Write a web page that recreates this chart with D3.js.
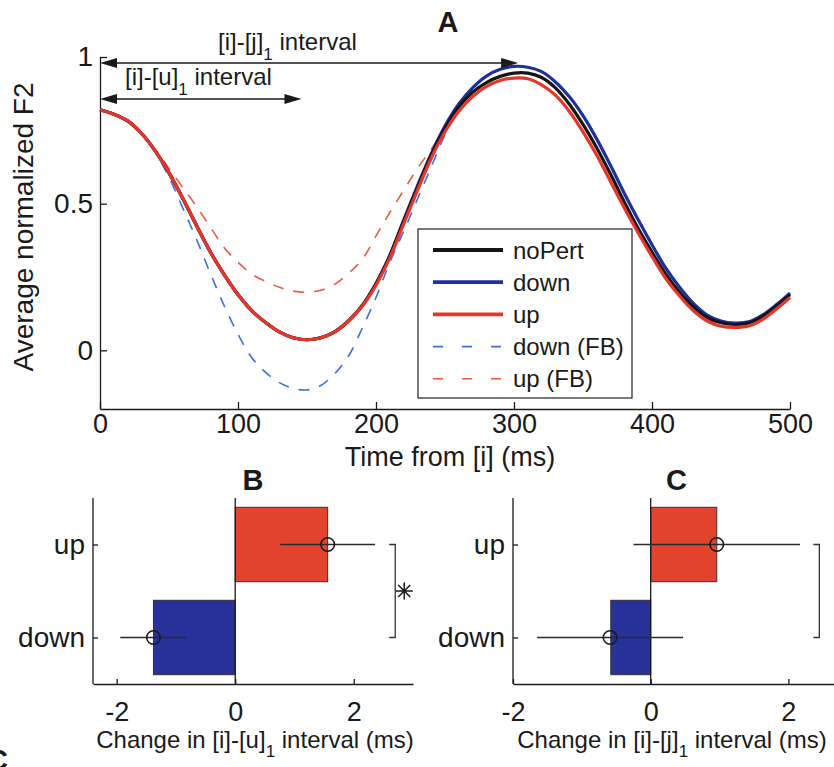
<!DOCTYPE html>
<html>
<head>
<meta charset="utf-8">
<script src="https://cdn.jsdelivr.net/npm/d3@7"></script>
<style>
  body { margin: 0; background: #fff; }
  text { font-family: "Liberation Sans", Arial, Helvetica, sans-serif; fill: #1a1a1a; }
</style>
</head>
<body>
<svg id="fig" width="834" height="767"></svg>
<script>
// ---- data ----
const timeMs = [0,10,20,30,40,50,60,70,80,90,100,110,120,130,140,150,160,170,180,190,200,
  210,220,230,240,250,260,270,280,290,300,310,320,330,340,350,360,370,380,390,400,
  410,420,430,440,450,460,470,480,490,500];

const noPert = [.82,.805,.782,.74,.68,.605,.518,.425,.335,.258,.19,.135,.095,.063,.043,.036,.043,.063,.10,.152,.227,
  .322,.44,.555,.665,.757,.83,.88,.913,.934,.945,.945,.93,.895,.84,.77,.69,.60,.505,.415,.335,
  .26,.198,.148,.112,.094,.088,.093,.115,.15,.19];
const down = [.82,.805,.782,.74,.68,.605,.518,.425,.335,.258,.19,.135,.095,.063,.043,.036,.043,.063,.10,.153,.228,
  .324,.443,.56,.67,.765,.84,.895,.935,.958,.968,.965,.95,.915,.865,.80,.72,.63,.535,.445,.36,
  .28,.215,.16,.12,.10,.093,.097,.12,.155,.195];
const up = [.82,.805,.782,.74,.68,.605,.518,.425,.335,.258,.19,.135,.095,.063,.043,.036,.043,.063,.10,.15,.222,
  .315,.43,.545,.655,.745,.815,.865,.90,.92,.928,.926,.905,.87,.815,.745,.665,.575,.485,.40,.32,
  .245,.185,.135,.10,.082,.078,.083,.105,.14,.18];
const downFB = [.82,.805,.782,.74,.675,.59,.485,.378,.262,.152,.055,-.025,-.075,-.11,-.13,-.135,-.12,-.08,-.02,.075,.18,
  .30,.405,.515,.625,.735,.83,.895,.935,.958,.968,.965,.95,.915,.865,.80,.72,.63,.535,.445,.36,
  .28,.215,.16,.12,.10,.093,.097,.12,.155,.195];
const upFB = [.82,.805,.782,.74,.685,.62,.555,.49,.42,.35,.30,.26,.235,.215,.202,.198,.205,.225,.262,.31,.39,
  .47,.545,.62,.685,.755,.815,.865,.90,.92,.928,.926,.905,.87,.815,.745,.665,.575,.485,.40,.32,
  .245,.185,.135,.10,.082,.078,.083,.105,.14,.18];

const timeTicks = [0, 100, 200, 300, 400, 500];
const f2Ticks = [0, 0.5, 1];

const intervalNames = ['[i]-[j]', '[i]-[u]'];
const intervalEndMs = [303, 146];

const barCats = ['down', 'up'];
const iuChange = [-1.38, 1.56];
const iuErr = [0.56, 0.80];
const ijChange = [-0.58, 0.96];
const ijMean = [-0.59, 0.96];
const ijErr = [1.06, 1.21];
const changeTicks = [-2, 0, 2];

const series = [
  { name: 'down (FB)', values: downFB, color: '#3b6fe0', width: 1.6, dash: '11,10' },
  { name: 'up (FB)', values: upFB, color: '#ec5a3e', width: 1.6, dash: '11,10' },
  { name: 'down', values: down, color: '#1f2f9c', width: 3.2, dash: null },
  { name: 'noPert', values: noPert, color: '#151515', width: 3.2, dash: null },
  { name: 'up', values: up, color: '#e8352a', width: 3.2, dash: null },
];
const legendOrder = ['noPert', 'down', 'up', 'down (FB)', 'up (FB)'];

const svg = d3.select('#fig');
const ink = '#1a1a1a';
const plain = d => String(d);

// ---- panel A ----
const x = d3.scaleLinear().domain([0, 500]).range([100, 790]);
const y = d3.scaleLinear().domain([-0.2, 1]).range([409, 57]);

const gA = svg.append('g');

gA.append('g')
  .attr('transform', `translate(0,${y(-0.2)})`)
  .call(d3.axisBottom(x).tickValues(timeTicks).tickFormat(plain).tickSizeInner(-7).tickSizeOuter(0).tickPadding(5))
  .call(g => g.selectAll('text').attr('font-size', 27));
gA.append('g')
  .attr('transform', `translate(${x(0)},0)`)
  .call(d3.axisLeft(y).tickValues(f2Ticks).tickFormat(plain).tickSizeInner(-7).tickSizeOuter(0).tickPadding(7))
  .call(g => g.selectAll('text').attr('font-size', 28));
gA.selectAll('.domain, .tick line').attr('stroke', ink).attr('stroke-width', 1.3);

const line = d3.line()
  .x((d, i) => x(timeMs[i]))
  .y(d => y(d))
  .curve(d3.curveCatmullRom.alpha(0.5));

gA.selectAll('path.curve')
  .data(series)
  .join('path')
  .attr('class', 'curve')
  .attr('d', d => line(d.values))
  .attr('fill', 'none')
  .attr('stroke', d => d.color)
  .attr('stroke-width', d => d.width)
  .attr('stroke-dasharray', d => d.dash);

// interval arrows
const arrowY = [63, 99];
const labelPos = [[218, 50], [125, 85]];
intervalNames.forEach((name, i) => {
  const x0 = x(0), x1 = x(intervalEndMs[i]), ay = arrowY[i];
  gA.append('line')
    .attr('x1', x0 + 10).attr('x2', x1 - 10).attr('y1', ay).attr('y2', ay)
    .attr('stroke', ink).attr('stroke-width', 1.3);
  gA.append('path')
    .attr('d', `M${x0},${ay} l17,-5 l0,10 Z M${x1},${ay} l-17,-5 l0,10 Z`)
    .attr('fill', ink);
  const t = gA.append('text')
    .attr('x', labelPos[i][0]).attr('y', labelPos[i][1])
    .attr('font-size', 24);
  t.append('tspan').text(name);
  t.append('tspan').text('1').attr('font-size', 17).attr('dy', 10);
  t.append('tspan').text(' interval').attr('dy', -10);
});

gA.append('text')
  .attr('x', 448).attr('y', 32)
  .attr('text-anchor', 'middle')
  .attr('font-size', 29).attr('font-weight', 'bold')
  .text('A');

gA.append('text')
  .attr('x', 450).attr('y', 466)
  .attr('text-anchor', 'middle')
  .attr('font-size', 27)
  .text('Time from [i] (ms)');

gA.append('text')
  .attr('transform', 'translate(33,227) rotate(-90)')
  .attr('text-anchor', 'middle')
  .attr('font-size', 28)
  .text('Average normalized F2');

// legend
const lg = gA.append('g');
lg.append('rect')
  .attr('x', 418).attr('y', 229).attr('width', 214).attr('height', 169)
  .attr('fill', '#fff').attr('stroke', '#222').attr('stroke-width', 1.2);
legendOrder.forEach((name, i) => {
  const s = series.find(d => d.name === name);
  const ly = 250 + i * 32.2;
  lg.append('line')
    .attr('x1', 433).attr('x2', 503).attr('y1', ly).attr('y2', ly)
    .attr('stroke', s.color)
    .attr('stroke-width', s.dash ? 1.6 : 3.8)
    .attr('stroke-dasharray', s.dash ? '10,19' : null);
  lg.append('text')
    .attr('x', 513).attr('y', ly + 8.5)
    .attr('font-size', 24)
    .text(name);
});

// ---- panels B and C ----
const catY = d3.scalePoint().domain(barCats).range([637.5, 544.5]);
const bandPx = 93 * 0.8;

function barPanel(opts) {
  const g = svg.append('g');
  const bx = d3.scaleLinear().domain(opts.xDomain).range(opts.xRange);

  g.append('g')
    .attr('transform', 'translate(0,684)')
    .call(d3.axisBottom(bx).tickValues(changeTicks).tickFormat(plain).tickSizeInner(-5).tickSizeOuter(0).tickPadding(18))
    .call(a => a.selectAll('text').attr('font-size', 27));
  g.append('g')
    .attr('transform', `translate(${opts.xRange[0]},0)`)
    .call(d3.axisLeft(catY).tickSizeInner(-5).tickSizeOuter(0).tickPadding(8))
    .call(a => a.select('.domain').attr('d', 'M0,498V684'))
    .call(a => a.selectAll('text').attr('font-size', 28));
  g.selectAll('.domain, .tick line').attr('stroke', ink).attr('stroke-width', 1.3);

  const colors = ['#26329a', '#e2432c'];
  g.selectAll('rect.bar')
    .data(opts.values)
    .join('rect')
    .attr('class', 'bar')
    .attr('x', d => Math.min(bx(0), bx(d)))
    .attr('width', d => Math.abs(bx(d) - bx(0)))
    .attr('y', (d, i) => catY(barCats[i]) - bandPx / 2)
    .attr('height', bandPx)
    .attr('fill', (d, i) => colors[i])
    .attr('stroke', '#333').attr('stroke-width', 1);

  g.append('line')
    .attr('x1', bx(0)).attr('x2', bx(0)).attr('y1', 498).attr('y2', 684)
    .attr('stroke', ink).attr('stroke-width', 1.3);

  opts.means.forEach((m, i) => {
    const cy = catY(barCats[i]);
    g.append('line')
      .attr('x1', bx(m - opts.errs[i])).attr('x2', bx(m + opts.errs[i]))
      .attr('y1', cy).attr('y2', cy)
      .attr('stroke', '#2a2a2a').attr('stroke-width', 1.4);
    g.append('circle')
      .attr('cx', bx(m)).attr('cy', cy).attr('r', 6.8)
      .attr('fill', 'none').attr('stroke', ink).attr('stroke-width', 1.6);
  });

  const bxk = bx(opts.bracketAt);
  g.append('path')
    .attr('d', `M${bxk - 6},${catY('up')}H${bxk}V${catY('down')}H${bxk - 6}`)
    .attr('fill', 'none').attr('stroke', '#333').attr('stroke-width', 1.3);
  if (opts.star) {
    const sx = bxk + 9, sy = (catY('up') + catY('down')) / 2, r = 8.5;
    const arms = [0, 45, 90, 135].map(a => {
      const c = Math.cos(a * Math.PI / 180) * r, s = Math.sin(a * Math.PI / 180) * r;
      return `M${sx - c},${sy - s}L${sx + c},${sy + s}`;
    }).join('');
    g.append('path').attr('d', arms).attr('stroke', ink).attr('stroke-width', 1.5);
  }

  const cx = (opts.xRange[0] + opts.xRange[1]) / 2;
  g.append('text')
    .attr('x', cx).attr('y', 490)
    .attr('text-anchor', 'middle')
    .attr('font-size', 29).attr('font-weight', 'bold')
    .text(opts.title);

  const t = g.append('text')
    .attr('x', opts.labelX).attr('y', 748)
    .attr('text-anchor', 'middle')
    .attr('font-size', 24);
  t.append('tspan').text(`Change in ${opts.interval}`);
  t.append('tspan').text('1').attr('font-size', 17).attr('dy', 9);
  t.append('tspan').text(' interval (ms)').attr('dy', -9);
}

barPanel({
  title: 'B', interval: '[i]-[u]',
  xDomain: [-2.4, 3], xRange: [93, 413],
  values: iuChange, means: iuChange, errs: iuErr,
  bracketAt: 2.7, star: true, labelX: 255,
});
barPanel({
  title: 'C', interval: '[i]-[j]',
  xDomain: [-2, 2.75], xRange: [513, 840],
  values: ijChange, means: ijMean, errs: ijErr,
  bracketAt: 2.45, star: false, labelX: 672,
});

// panel label of the next figure part, cut by the lower-left edge as in the source
svg.append('text')
  .attr('x', 8).attr('y', 770)
  .attr('text-anchor', 'end')
  .attr('font-size', 29).attr('font-weight', 'bold')
  .text('C');
</script>
</body>
</html>
